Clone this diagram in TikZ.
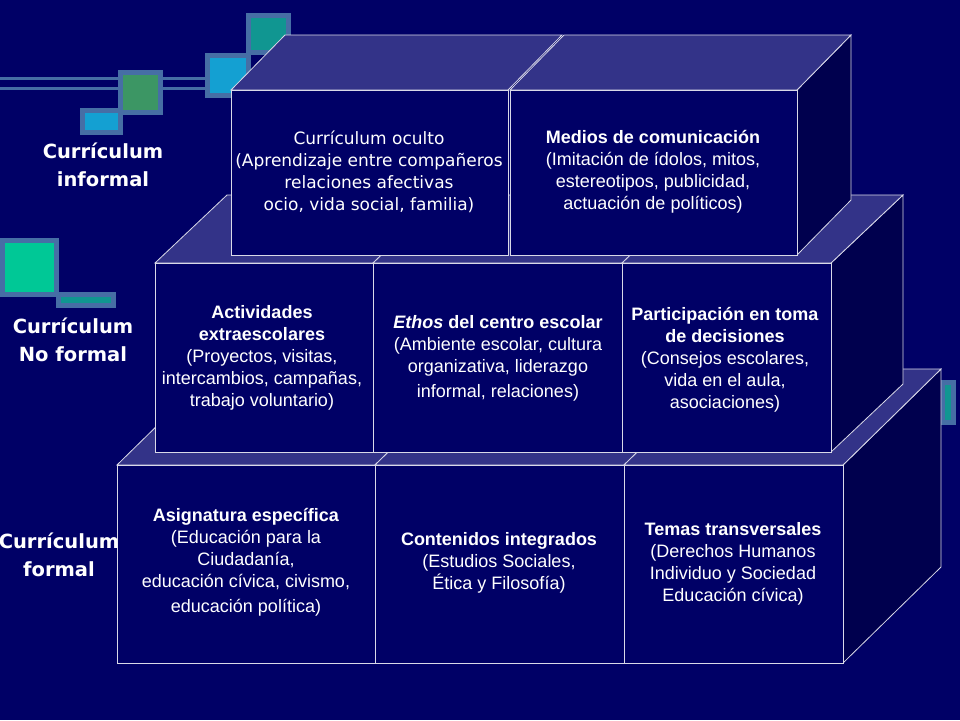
\documentclass[tikz,border=0pt]{standalone}
\usepackage{fontspec}
\setmainfont{Liberation Sans}
\newfontfamily\labelfont{DejaVu Sans}
\definecolor{fondo}{RGB}{0,0,102}
\definecolor{tapa}{RGB}{51,51,136}
\definecolor{lado}{RGB}{0,0,78}
\definecolor{marco}{RGB}{70,110,165}
\definecolor{verde}{RGB}{60,150,100}
\definecolor{azul}{RGB}{20,160,210}
\definecolor{teal}{RGB}{16,150,145}
\definecolor{menta}{RGB}{0,200,150}
\tikzset{
  cara/.style={draw=white!85!fondo,line width=0.8pt},
  txt/.style={text=white,align=center,font=\fontsize{18}{22}\selectfont},
  etiq/.style={text=white,align=center,font=\labelfont\bfseries\fontsize{19.5}{28}\selectfont},
  cuadro/.style={draw=marco,line width=5pt}
}
% caja: x1, x2, y arriba, y abajo, dx, dy
\newcommand{\caja}[6]{%
  \fill[tapa,cara] (#1,#3) -- ++(#5,-#6) -- (#2+#5,#3-#6) -- (#2,#3) -- cycle;
  \fill[fondo,cara] (#1,#3) rectangle (#2,#4);}
\newcommand{\lado}[5]{%
  \fill[lado,cara] (#1,#2) -- ++(#4,-#5) -- (#1+#4,#3-#5) -- (#1,#3) -- cycle;}
\begin{document}
\begin{tikzpicture}[x=1pt,y=-1pt]
\fill[fondo] (0,0) rectangle (960,720);
\useasboundingbox (0,0) rectangle (960,720);
% adornos
\draw[marco,line width=3pt] (0,78) -- (215,78) (0,88) -- (215,88);
\draw[cuadro,fill=azul] (82,110) rectangle (120,132);
\draw[cuadro,fill=verde] (120,72) rectangle (160,112);
\draw[cuadro,fill=azul] (207,55) rectangle (248,95);
\draw[cuadro,fill=teal] (248,15) rectangle (288,52);
\draw[cuadro,fill=menta] (2,240) rectangle (56,294);
\draw[cuadro,fill=teal] (58,294) rectangle (113,305);
\draw[cuadro,fill=teal] (942,382) rectangle (953,422);
% fila inferior
\lado{843}{465}{663}{98}{96}
\caja{117}{375}{465}{663}{98}{96}
\caja{375}{624}{465}{663}{98}{96}
\caja{624}{843}{465}{663}{98}{96}
% fila media
\lado{831}{263}{452}{72}{68}
\caja{155}{373}{263}{452}{72}{68}
\caja{373}{622}{263}{452}{72}{68}
\caja{622}{831}{263}{452}{72}{68}
% fila superior
\lado{797}{90}{255}{54}{55}
\caja{231}{508}{90}{255}{54}{55}
\caja{510}{797}{90}{255}{54}{55}
% textos
\node[etiq] (informal) at (103,165) {Currículum\\informal};
\node[etiq] (noformal) at (73,340) {Currículum\\No formal};
\node[etiq] (formal) at (59,555) {Currículum\\formal};
\node[txt,font=\labelfont\fontsize{17}{22}\selectfont] (oculto) at (369,172) {Currículum oculto\\(Aprendizaje entre compañeros\\relaciones afectivas\\ocio, vida social, familia)};
\node[txt] (medios) at (653,172) {\textbf{Medios de comunicación}\\(Imitación de ídolos, mitos,\\estereotipos, publicidad,\\actuación de políticos)};
\node[txt] (activ) at (262,358) {\textbf{Actividades}\\\textbf{extraescolares}\\(Proyectos, visitas,\\intercambios, campañas,\\trabajo voluntario)};
\node[txt] (ethos) at (498,358) {\textbf{\textit{Ethos} del centro escolar}\\(Ambiente escolar, cultura\\organizativa, liderazgo\\[3pt]informal, relaciones)};
\node[txt] (partic) at (725,360) {\textbf{Participación en toma}\\\textbf{de decisiones}\\(Consejos escolares,\\vida en el aula,\\asociaciones)};
\node[txt] (asign) at (246,562) {\textbf{Asignatura específica}\\(Educación para la\\Ciudadanía,\\educación cívica, civismo,\\[3pt]educación política)};
\node[txt] (conten) at (499,563) {\textbf{Contenidos integrados}\\(Estudios Sociales,\\Ética y Filosofía)};
\node[txt] (temas) at (733,564) {\textbf{Temas transversales}\\(Derechos Humanos\\Individuo y Sociedad\\Educación cívica)};
\end{tikzpicture}
\end{document}
